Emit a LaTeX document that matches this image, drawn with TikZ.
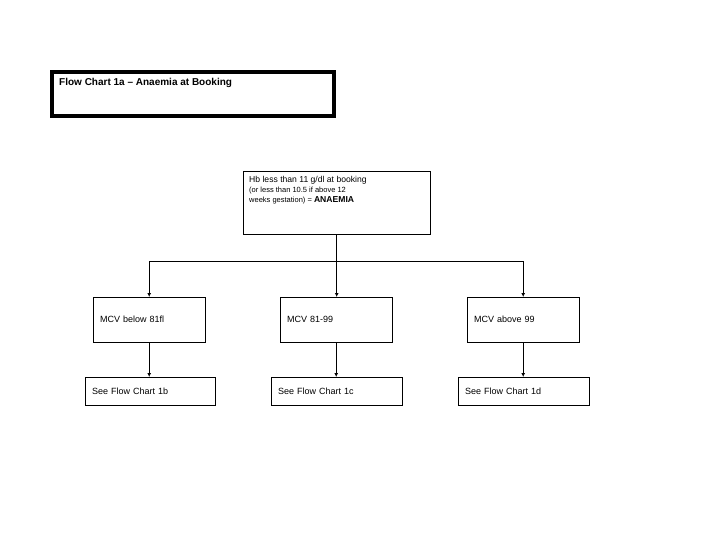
\documentclass[tikz,border=0pt]{standalone}
\usepackage{fontspec}
\setmainfont{Liberation Sans}
\usetikzlibrary{arrows.meta}
\tikzset{
  box/.style = {draw, thin, rectangle, inner xsep = 7pt, inner ysep = 0pt, align = left, font = \fontsize{9}{11}\selectfont},
  link/.style = {line width = 1.4pt, -{Latex[length = 4pt, width = 4pt]}}
}
\begin{document}
\begin{tikzpicture}[x = 1pt, y = -1pt]
	 \useasboundingbox (0, 0) rectangle (720, 540);
	 
	 \draw[line width = 4pt] (51.5, 72.5) rectangle (333.5, 116.5);
	 \node[anchor = north west, inner sep = 0pt, font = \bfseries\fontsize{10}{12}\selectfont] (title) at (59, 78) {Flow Chart 1a -- Anaemia at Booking};
	 
	 \node[draw, thin, minimum width = 187, minimum height = 63, anchor = north west] (hb) at (243, 171) {};
	 \node[anchor = north west, inner sep = 0pt, align = left, font = \fontsize{7.5}{10}\selectfont] (hbtext) at (249, 176) {{\fontsize{8.6}{10}\selectfont Hb less than 11 g/dl at booking}\\(or less than 10.5 if above 12\\weeks gestation) = {\fontsize{8.6}{10}\selectfont\bfseries ANAEMIA}};
	 
	 \node[box, text width = 98, minimum height = 45, anchor = north west] (low) at (93, 297) {MCV below 81fl};
	 \node[box, text width = 98, minimum height = 45, anchor = north west] (mid) at (280, 297) {MCV 81-99};
	 \node[box, text width = 98, minimum height = 45, anchor = north west] (high) at (467, 297) {MCV above 99};
	 
	 \node[box, text width = 116, minimum height = 28, anchor = north west] (seeb) at (85, 377) {See Flow Chart 1b};
	 \node[box, text width = 117, minimum height = 28, anchor = north west] (seec) at (271, 377) {See Flow Chart 1c};
	 \node[box, text width = 117, minimum height = 28, anchor = north west] (seed) at (458, 377) {See Flow Chart 1d};
	 
	 \coordinate (split) at (hb.south |- 0, 261);
	 \draw[line width = 1pt] (low.north |- split) -- (high.north |- split);
	 \draw[link] (hb.south) -- (hb.south |- mid.north);
	 \draw[link] (low.north |- split) -- (low.north);
	 \draw[link] (high.north |- split) -- (high.north);
	 
	 \draw[link] (low.south) -- (low.south |- seeb.north);
	 \draw[link] (mid.south) -- (mid.south |- seec.north);
	 \draw[link] (high.south) -- (high.south |- seed.north);
\end{tikzpicture}
\end{document}
